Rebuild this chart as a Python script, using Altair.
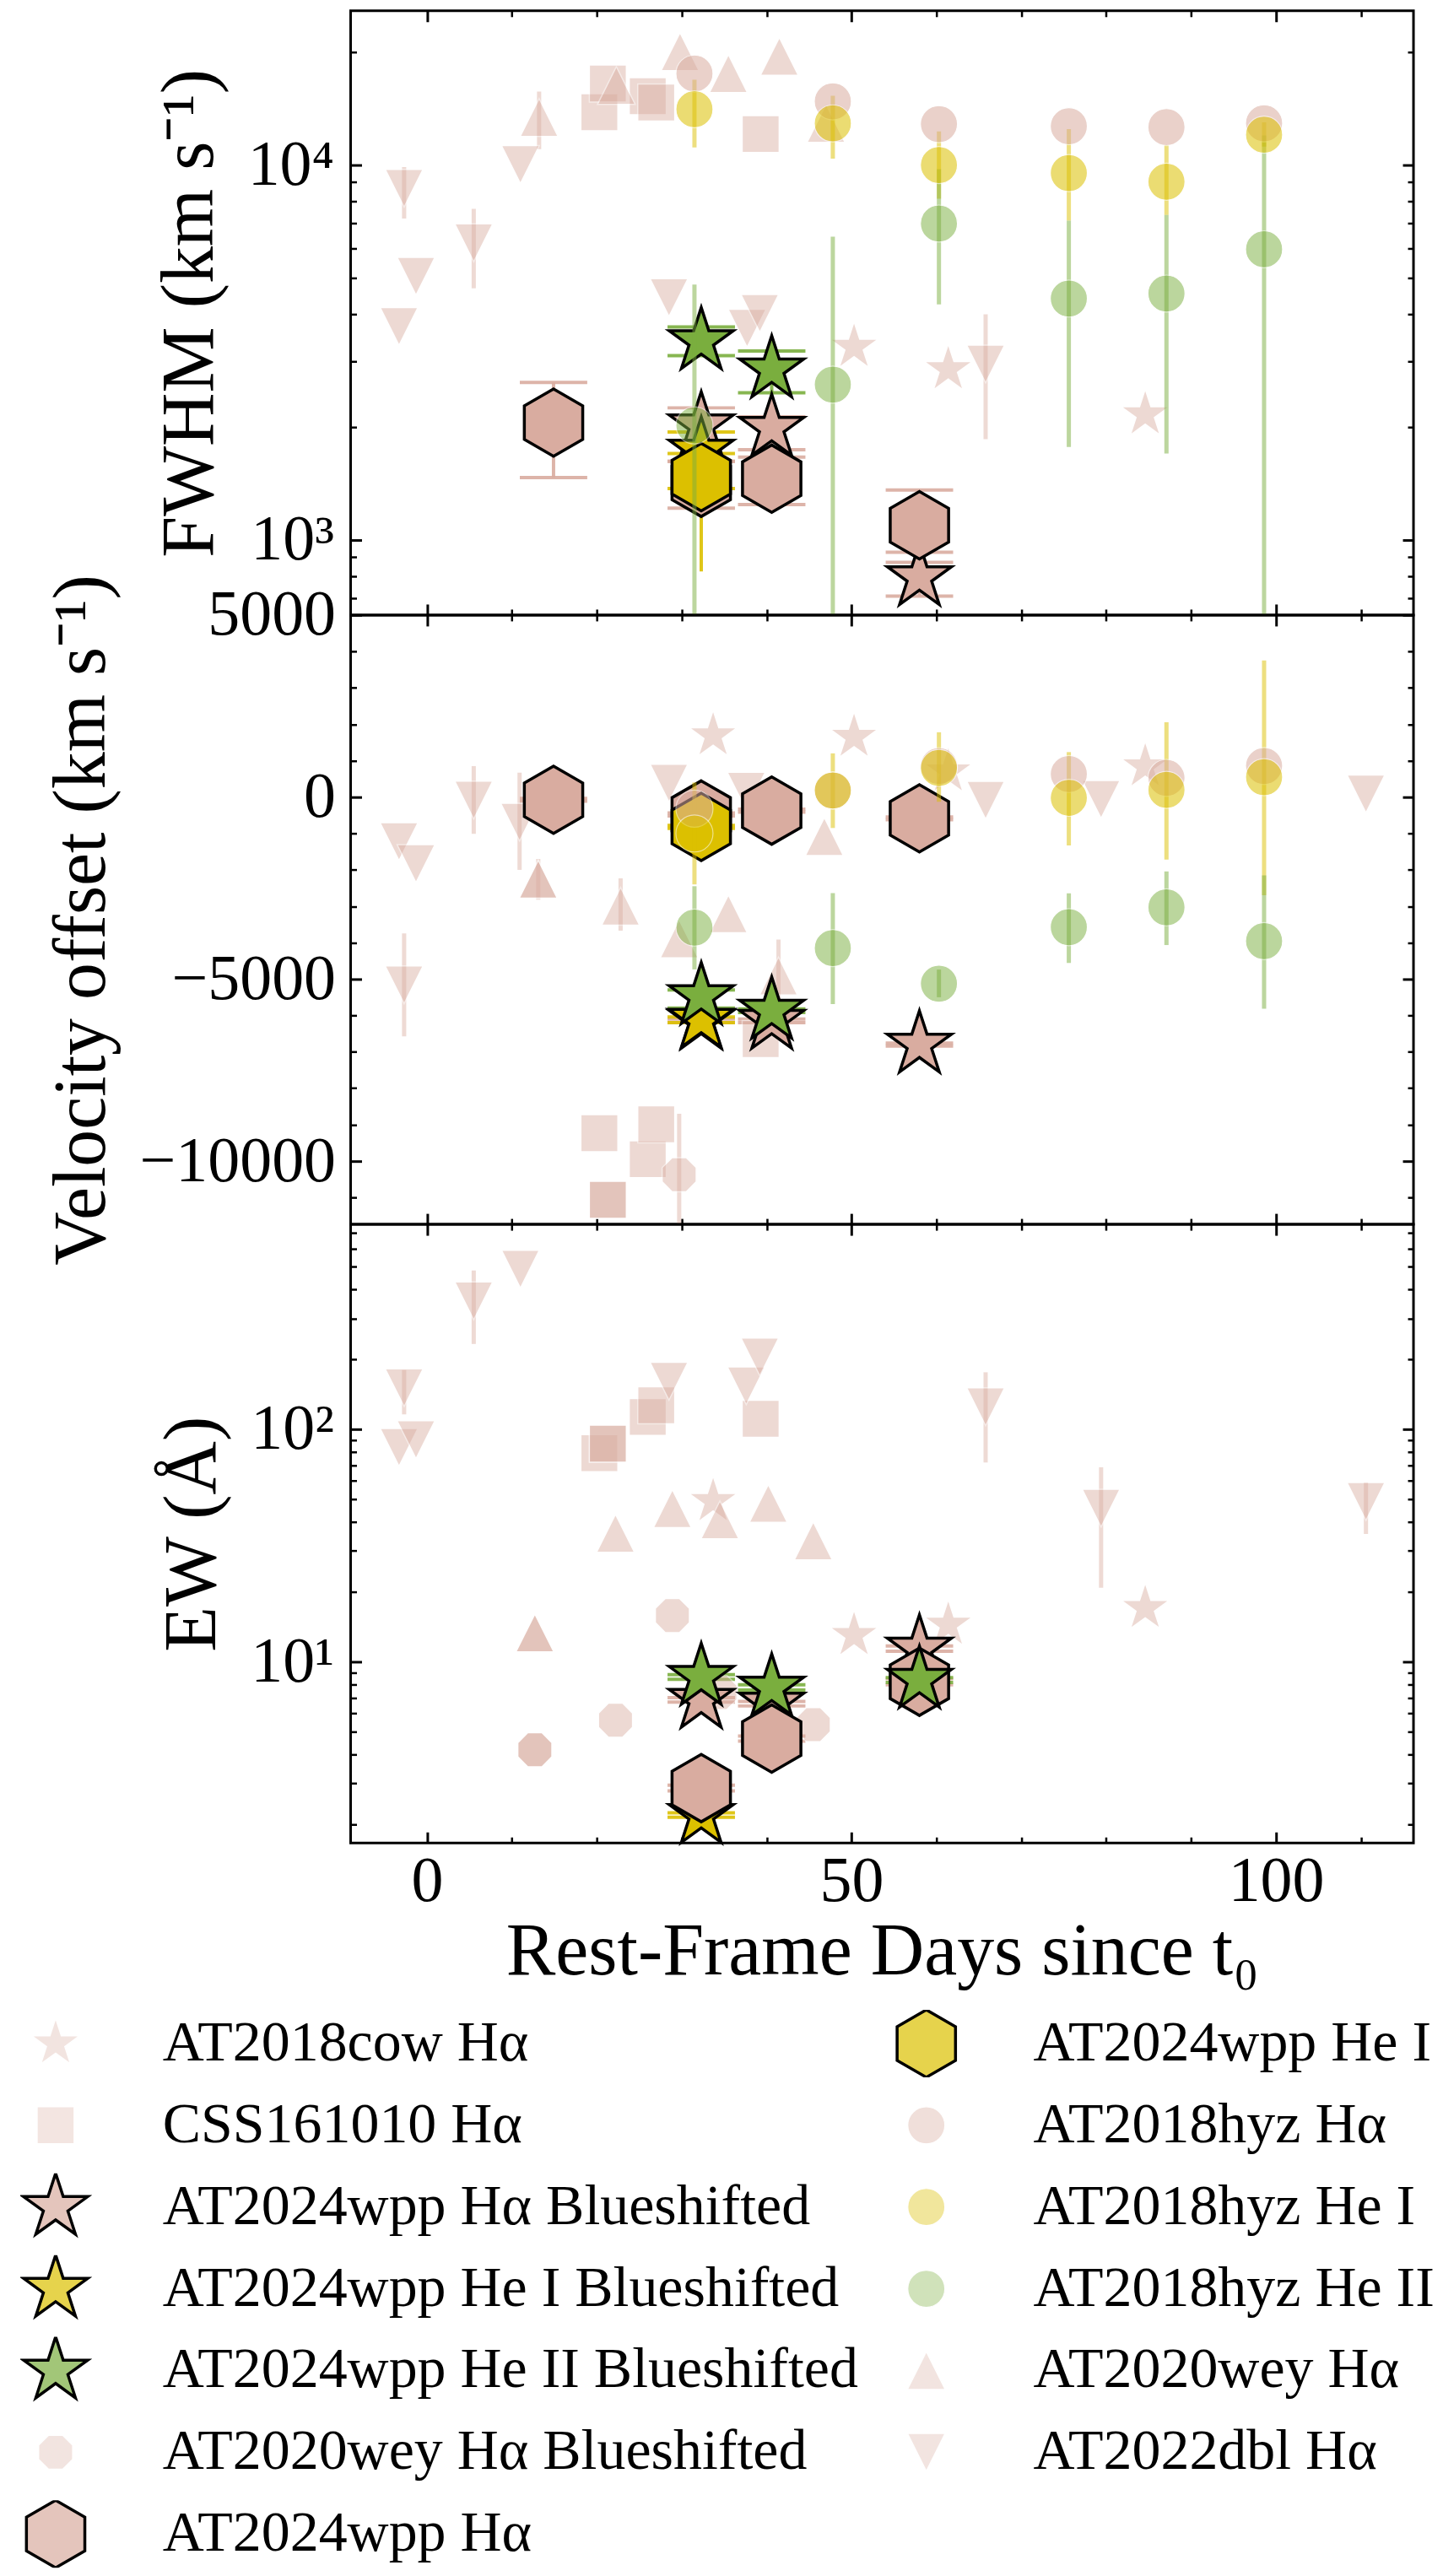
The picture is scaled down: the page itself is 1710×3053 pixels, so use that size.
import math
import altair as alt
import pandas as pd

FONT = "Liberation Serif"
PINK = "#d9aca0"
YELLOW = "#dcc000"
GREEN = "#7aae3e"

# ---------------- series names ----------------
COW = "AT2018cow Hα"
CSS = "CSS161010 Hα"
WPP_HA_B = "AT2024wpp Hα Blueshifted"
WPP_HEI_B = "AT2024wpp He I Blueshifted"
WPP_HEII_B = "AT2024wpp He II Blueshifted"
WEY_B = "AT2020wey Hα Blueshifted"
WPP_HA = "AT2024wpp Hα"
WPP_HEI = "AT2024wpp He I"
HYZ_HA = "AT2018hyz Hα"
HYZ_HEI = "AT2018hyz He I"
HYZ_HEII = "AT2018hyz He II"
WEY = "AT2020wey Hα"
DBL = "AT2022dbl Hα"

# ---------------- shared epochs ----------------
hyz_day = [31.5, 47.8, 60.3, 75.6, 87.1, 98.6]
wpp_day = [14.9, 32.3, 40.6, 58.0]
wpp_day3 = [32.3, 40.6, 58.0]
wpp_day2 = [32.3, 40.6]
wpp_day1 = [32.3]

# ---------------- FWHM panel (km/s) ----------------
fwhm_cow_day = [50.3, 61.4, 84.6]
fwhm_cow = [3270, 2850, 2160]
fwhm_css_day = [20.3, 21.3, 26.0, 27.0, 39.3]
fwhm_css = [13840, 16500, 15260, 14680, 12100]
fwhm_wey_day = [13.2, 22.3, 29.8, 35.5, 41.5, 47.0]
fwhm_wey = [13400, 16300, 20070, 17540, 19500, 12920]
fwhm_wey_lo = [11030, None, None, None, None, None]
fwhm_wey_hi = [15700, None, None, None, None, None]
fwhm_dbl_day = [-2.7, -3.3, -1.3, 5.5, 11.0, 28.5, 37.7, 39.2, 65.8]
fwhm_dbl = [8670, 3710, 5050, 6200, 10030, 4430, 3670, 4020, 2945]
fwhm_dbl_lo = [7200, None, None, 4690, None, None, None, None, 1855]
fwhm_dbl_hi = [9880, None, None, 7640, None, None, None, None, 4000]
fwhm_hyz_ha = [17540, 14790, 12860, 12700, 12620, 12920]
fwhm_hyz_hei = [14090, 12920, 10000, 9520, 9030, 12050]
fwhm_hyz_hei_lo = [11150, 10400, 8130, 7110, 7360, 11200]
fwhm_hyz_hei_hi = [16900, 15300, 12300, 12470, 11300, 13000]
fwhm_hyz_heii = [2020, 2595, 6980, 4405, 4540, 5960]
fwhm_hyz_heii_lo = [400, 400, 4250, 1770, 1700, 400]
fwhm_hyz_heii_hi = [4800, 6440, 9750, 7110, 7360, 12000]
fwhm_wpp_ha = [2055, 1420, 1456, 1094]
fwhm_wpp_ha_lo = [1466, 1215, 1242, 927]
fwhm_wpp_ha_hi = [2630, 1620, 1662, 1358]
fwhm_wpp_hei = [1470]
fwhm_wpp_hei_lo = [824]
fwhm_wpp_hei_hi = [1700]
fwhm_wpp_ha_b = [2020, 1990, 795]
fwhm_wpp_ha_b_lo = [1620, 1740, 708]
fwhm_wpp_ha_b_hi = [2250, 2130, 871]
fwhm_wpp_hei_b = [1730]
fwhm_wpp_hei_b_lo = [1370]
fwhm_wpp_hei_b_hi = [1940]
fwhm_wpp_heii_b = [3390, 2850]
fwhm_wpp_heii_b_lo = [3100, 2470]
fwhm_wpp_heii_b_hi = [3700, 3190]

# ---------------- Velocity panel (km/s) ----------------
vel_cow_day = [33.7, 50.3, 61.4, 84.6]
vel_cow = [1690, 1650, 700, 840]
vel_css_day = [20.3, 21.3, 21.3, 26.0, 27.0, 39.3]
vel_css = [-9235, -11065, -11065, -9950, -8990, -6650]
vel_wey_b_day = [29.7]
vel_wey_b = [-10375]
vel_wey_b_lo = [-12500]
vel_wey_b_hi = [-8700]
vel_wey_day = [13.1, 13.1, 22.8, 29.7, 35.5, 41.4, 46.8]
vel_wey = [-2255, -2255, -3000, -3895, -3210, -4915, -1085]
vel_wey_lo = [-2820, None, -3670, None, None, -5915, None]
vel_wey_hi = [-1700, None, -2234, None, None, -3915, None]
vel_dbl_day = [-3.3, -1.3, 5.5, 10.9, -2.7, 28.5, 37.6, 65.8, 79.4, 110.6]
vel_dbl = [-1225, -1830, -85, -690, -5160, 383, 160, -87, -65, 87]
vel_dbl_lo = [None, None, -1010, -2000, -6575, None, None, None, None, None]
vel_dbl_hi = [None, None, 851, 670, -3745, None, None, None, None, None]
vel_hyz_ha = [-320, 180, 850, 634, 525, 853]
vel_hyz_hei = [-1000, 180, 800, -20, 197, 547]
vel_hyz_hei_lo = [-2400, -850, -130, -1330, -1716, -2700]
vel_hyz_hei_hi = [400, 1200, 1780, 1235, 2055, 3750]
vel_hyz_heii = [-3585, -4150, -5126, -3574, -3028, -3957]
vel_hyz_heii_lo = [-4735, -5690, -5500, -4558, -4066, -5815]
vel_hyz_heii_hi = [-2450, -2640, -4740, -2645, -2044, -2153]
vel_wpp_ha = [-75, -480, -372, -585]
vel_wpp_ha_lo = [-115, -520, -412, -625]
vel_wpp_ha_hi = [-35, -440, -332, -545]
vel_wpp_hei = [-820]
vel_wpp_hei_lo = [-860]
vel_wpp_hei_hi = [-780]
vel_wpp_ha_b = [-6150, -6150, -6800]
vel_wpp_ha_b_lo = [-6200, -6200, -6840]
vel_wpp_ha_b_hi = [-6100, -6100, -6760]
vel_wpp_hei_b = [-6120]
vel_wpp_hei_b_lo = [-6200]
vel_wpp_hei_b_hi = [-6040]
vel_wpp_heii_b = [-5470, -5870]
vel_wpp_heii_b_lo = [-5800, -5920]
vel_wpp_heii_b_hi = [-5300, -5820]

# ---------------- EW panel (Angstrom) ----------------
ew_cow_day = [33.7, 50.3, 61.4, 84.6]
ew_cow = [49.0, 13.0, 14.4, 17.0]
ew_css_day = [20.3, 21.3, 21.3, 26.0, 27.0, 39.3]
ew_css = [78.9, 86.8, 86.8, 113, 127, 111]
ew_wey_b_day = [12.7, 12.7, 22.2, 28.9, 34.5, 45.5]
ew_wey_b = [4.18, 4.18, 5.60, 15.8, 7.37, 5.36]
ew_wey_day = [12.7, 12.7, 22.2, 28.9, 34.5, 40.2, 45.5]
ew_wey = [13.3, 13.3, 35.7, 45.6, 40.8, 48.0, 33.1]
ew_dbl_day = [-2.7, -3.3, -1.3, 5.5, 11.0, 28.5, 37.6, 39.2, 65.8, 79.4, 110.6]
ew_dbl = [151, 83.6, 90.2, 357, 489, 161, 154, 205, 125, 45.8, 48.9]
ew_dbl_lo = [116, None, None, 233, None, None, None, None, 72, 20.8, 35.5]
ew_dbl_hi = [180, None, None, 482, None, None, None, None, 176, 68.7, 59]
ew_wpp_ha = [2.86, 4.67, 8.2]
ew_wpp_ha_lo = [2.78, 4.55, 7.95]
ew_wpp_ha_hi = [2.94, 4.79, 8.45]
ew_wpp_ha_b = [6.86, 6.6, 11.4]
ew_wpp_ha_b_lo = [6.7, 6.45, 11.1]
ew_wpp_ha_b_hi = [7.0, 6.75, 11.7]
ew_wpp_hei_b = [2.19]
ew_wpp_hei_b_lo = [2.14]
ew_wpp_hei_b_hi = [2.24]
ew_wpp_heii_b = [8.6, 7.74, 8.36]
ew_wpp_heii_b_lo = [8.4, 7.55, 8.15]
ew_wpp_heii_b_hi = [8.8, 7.95, 8.55]

# ---------------- marker styles ----------------
def star_path():
    pts = []
    for k in range(10):
        r = 1.0 if k % 2 == 0 else 0.382
        a = math.radians(-90 + 36 * k)
        pts.append(f"{r * math.cos(a):.4f},{r * math.sin(a):.4f}")
    return "M" + "L".join(pts) + "Z"

STAR = star_path()
HEX = "M0,-1L0.866,-0.5L0.866,0.5L0,1L-0.866,0.5L-0.866,-0.5Z"
OCT = "M-0.414,-1L0.414,-1L1,-0.414L1,0.414L0.414,1L-0.414,1L-1,0.414L-1,-0.414Z"
SQR = "M-1,-1L1,-1L1,1L-1,1Z"
TUP = "M0,-1L1,1L-1,1Z"
TDN = "M0,1L1,-1L-1,-1Z"

# shape, fill, stroke, strokeWidth, opacity, size, error colour, error group
STYLE = {
    COW: (STAR, PINK, "white", 1.5, 0.45, 3600, PINK, "faint"),
    CSS: (SQR, PINK, "white", 1.5, 0.45, 1936, PINK, "faint"),
    WPP_HA_B: (STAR, PINK, "black", 3.5, 1.0, 6400, PINK, "wpp"),
    WPP_HEI_B: (STAR, YELLOW, "black", 3.5, 1.0, 6400, YELLOW, "wpp"),
    WPP_HEII_B: (STAR, GREEN, "black", 3.5, 1.0, 6400, GREEN, "wpp"),
    WEY_B: (OCT, PINK, "white", 1.5, 0.45, 1640, PINK, "faint"),
    WPP_HA: (HEX, PINK, "black", 3.5, 1.0, 6400, PINK, "wpp"),
    WPP_HEI: (HEX, YELLOW, "black", 3.5, 1.0, 6400, YELLOW, "wpp"),
    HYZ_HA: ("circle", PINK, "white", 1.2, 0.55, 1936, PINK, "hyz"),
    HYZ_HEI: ("circle", YELLOW, "white", 1.2, 0.55, 1936, YELLOW, "hyz"),
    HYZ_HEII: ("circle", GREEN, "white", 1.2, 0.5, 1936, GREEN, "hyz"),
    WEY: (TUP, PINK, "white", 1.5, 0.45, 2025, PINK, "faint"),
    DBL: (TDN, PINK, "white", 1.5, 0.45, 2025, PINK, "faint"),
}
# legend order (column-major, two columns)
LEG = [COW, CSS, WPP_HA_B, WPP_HEI_B, WPP_HEII_B, WEY_B, WPP_HA,
       WPP_HEI, HYZ_HA, HYZ_HEI, HYZ_HEII, WEY, DBL]
# drawing order
ORDER = [COW, CSS, WEY_B, WEY, DBL, WPP_HA_B, WPP_HEI_B, WPP_HA, WPP_HEI, WPP_HEII_B,
         HYZ_HA, HYZ_HEI, HYZ_HEII]
HYZ = [HYZ_HA, HYZ_HEI, HYZ_HEII]
# error-bar ends drawn without a cap: (panel, series, day)
NO_LOW_CAP = {("fwhm", WPP_HEI, 32.3)}


def build(panel_name, entries):
    recs = []
    for s, d, v, lo, hi in entries:
        for i in range(len(d)):
            l = lo[i] if lo else None
            h = hi[i] if hi else None
            recs.append({
                "series": s, "day": d[i], "val": v[i], "lo": l, "hi": h,
                "caplo": None if (panel_name, s, d[i]) in NO_LOW_CAP else l,
                "ecolor": STYLE[s][6], "egrp": STYLE[s][7], "ord": ORDER.index(s),
            })
    df = pd.DataFrame(recs).sort_values("ord", kind="stable").reset_index(drop=True)
    return df


fwhm_df = build("fwhm", [
    (COW, fwhm_cow_day, fwhm_cow, None, None),
    (CSS, fwhm_css_day, fwhm_css, None, None),
    (WEY, fwhm_wey_day, fwhm_wey, fwhm_wey_lo, fwhm_wey_hi),
    (DBL, fwhm_dbl_day, fwhm_dbl, fwhm_dbl_lo, fwhm_dbl_hi),
    (HYZ_HA, hyz_day, fwhm_hyz_ha, None, None),
    (HYZ_HEI, hyz_day, fwhm_hyz_hei, fwhm_hyz_hei_lo, fwhm_hyz_hei_hi),
    (HYZ_HEII, hyz_day, fwhm_hyz_heii, fwhm_hyz_heii_lo, fwhm_hyz_heii_hi),
    (WPP_HA, wpp_day, fwhm_wpp_ha, fwhm_wpp_ha_lo, fwhm_wpp_ha_hi),
    (WPP_HEI, wpp_day1, fwhm_wpp_hei, fwhm_wpp_hei_lo, fwhm_wpp_hei_hi),
    (WPP_HA_B, wpp_day3, fwhm_wpp_ha_b, fwhm_wpp_ha_b_lo, fwhm_wpp_ha_b_hi),
    (WPP_HEI_B, wpp_day1, fwhm_wpp_hei_b, fwhm_wpp_hei_b_lo, fwhm_wpp_hei_b_hi),
    (WPP_HEII_B, wpp_day2, fwhm_wpp_heii_b, fwhm_wpp_heii_b_lo, fwhm_wpp_heii_b_hi),
])
vel_df = build("vel", [
    (COW, vel_cow_day, vel_cow, None, None),
    (CSS, vel_css_day, vel_css, None, None),
    (WEY_B, vel_wey_b_day, vel_wey_b, vel_wey_b_lo, vel_wey_b_hi),
    (WEY, vel_wey_day, vel_wey, vel_wey_lo, vel_wey_hi),
    (DBL, vel_dbl_day, vel_dbl, vel_dbl_lo, vel_dbl_hi),
    (HYZ_HA, hyz_day, vel_hyz_ha, None, None),
    (HYZ_HEI, hyz_day, vel_hyz_hei, vel_hyz_hei_lo, vel_hyz_hei_hi),
    (HYZ_HEII, hyz_day, vel_hyz_heii, vel_hyz_heii_lo, vel_hyz_heii_hi),
    (WPP_HA, wpp_day, vel_wpp_ha, vel_wpp_ha_lo, vel_wpp_ha_hi),
    (WPP_HEI, wpp_day1, vel_wpp_hei, vel_wpp_hei_lo, vel_wpp_hei_hi),
    (WPP_HA_B, wpp_day3, vel_wpp_ha_b, vel_wpp_ha_b_lo, vel_wpp_ha_b_hi),
    (WPP_HEI_B, wpp_day1, vel_wpp_hei_b, vel_wpp_hei_b_lo, vel_wpp_hei_b_hi),
    (WPP_HEII_B, wpp_day2, vel_wpp_heii_b, vel_wpp_heii_b_lo, vel_wpp_heii_b_hi),
])
ew_df = build("ew", [
    (COW, ew_cow_day, ew_cow, None, None),
    (CSS, ew_css_day, ew_css, None, None),
    (WEY_B, ew_wey_b_day, ew_wey_b, None, None),
    (WEY, ew_wey_day, ew_wey, None, None),
    (DBL, ew_dbl_day, ew_dbl, ew_dbl_lo, ew_dbl_hi),
    (WPP_HA, wpp_day3, ew_wpp_ha, ew_wpp_ha_lo, ew_wpp_ha_hi),
    (WPP_HA_B, wpp_day3, ew_wpp_ha_b, ew_wpp_ha_b_lo, ew_wpp_ha_b_hi),
    (WPP_HEI_B, wpp_day1, ew_wpp_hei_b, ew_wpp_hei_b_lo, ew_wpp_hei_b_hi),
    (WPP_HEII_B, wpp_day3, ew_wpp_heii_b, ew_wpp_heii_b_lo, ew_wpp_heii_b_hi),
])

W = 1261
X_DOMAIN = [-9.0, 116.2]
X_MAJOR = [0, 50, 100]
X_MINOR = [10, 20, 30, 40, 60, 70, 80, 90, 110]

LEGEND = alt.Legend(
    orient="none", legendX=-392, legendY=932, columns=2, title=None,
    labelFont=FONT, labelFontSize=68, labelColor="black", labelLimit=2000,
    columnPadding=38, rowPadding=17, clipHeight=80, labelOffset=85, padding=0,
)


def scale_for(key):
    idx = {"shape": 0, "fill": 1, "stroke": 2, "sw": 3, "op": 4, "size": 5}[key]
    return alt.Scale(type="ordinal", domain=LEG, range=[STYLE[s][idx] for s in LEG])


def panel(df, yscale, height, y_major, y_minor, y_title, y_label_kw, x_labels, x_title, legend):
    xs = alt.Scale(domain=X_DOMAIN, nice=False, zero=False)
    ys = yscale
    main = df[~df.series.isin(HYZ)]
    hyz = df[df.series.isin(HYZ)]
    layers = []

    def rules(d, width, op):
        d = d[d.lo.notna()]
        return alt.Chart(d).mark_rule(strokeWidth=width, opacity=op, clip=True).encode(
            x=alt.X("day:Q", scale=xs, axis=None),
            y=alt.Y("lo:Q", scale=ys, axis=None),
            y2="hi:Q",
            color=alt.Color("ecolor:N", scale=None),
        )

    def caps(d, field):
        d = d[d[field].notna()]
        return alt.Chart(d).mark_tick(orient="horizontal", size=80, thickness=4,
                                      opacity=0.9, clip=True).encode(
            x=alt.X("day:Q", scale=xs, axis=None),
            y=alt.Y(f"{field}:Q", scale=ys, axis=None),
            color=alt.Color("ecolor:N", scale=None),
        )

    def points(d):
        return alt.Chart(d).mark_point(filled=True).encode(
            x=alt.X("day:Q", scale=xs, axis=None),
            y=alt.Y("val:Q", scale=ys, axis=None),
            shape=alt.Shape("series:N", scale=scale_for("shape"), legend=legend),
            fill=alt.Fill("series:N", scale=scale_for("fill"), legend=legend),
            stroke=alt.Stroke("series:N", scale=scale_for("stroke"), legend=legend),
            strokeWidth=alt.StrokeWidth("series:N", scale=scale_for("sw"), legend=legend),
            opacity=alt.Opacity("series:N", scale=scale_for("op"), legend=legend),
            size=alt.Size("series:N", scale=scale_for("size"), legend=legend),
        )

    wpp = main[main.egrp == "wpp"]
    faint = main[main.egrp == "faint"]
    layers.append(rules(faint, 5, 0.45))
    if len(wpp):
        layers.append(rules(wpp, 4, 0.9))
        layers.append(caps(wpp, "caplo"))
        layers.append(caps(wpp, "hi"))
    layers.append(points(main))
    if len(hyz):
        layers.append(rules(hyz, 5, 0.5))
        layers.append(points(hyz))

    common = dict(domain=False, grid=False, tickColor="black", labelFont=FONT,
                  labelFontSize=76, labelColor="black", titleFont=FONT,
                  titleFontSize=88, titleFontWeight="normal", titleColor="black",
                  labelLimit=500, maxExtent=600, minExtent=0)
    one = main.iloc[:1]

    def ax(xax, yax):
        return alt.Chart(one).mark_point(opacity=0).encode(
            x=alt.X("day:Q", scale=xs, axis=xax),
            y=alt.Y("val:Q", scale=ys, axis=yax),
        )

    if x_labels:
        layers.append(ax(alt.Axis(orient="bottom", values=X_MAJOR, tickSize=13, offset=-13,
                                  tickWidth=3, labels=True, labelPadding=8, format="d",
                                  title=x_title, titlePadding=2, **common), None))
    else:
        layers.append(ax(alt.Axis(orient="bottom", values=X_MAJOR, tickSize=13, offset=-13,
                                  tickWidth=3, labels=False, title=None, **common), None))
    layers.append(ax(alt.Axis(orient="bottom", values=X_MINOR, tickSize=7, offset=-7,
                              tickWidth=2.5, labels=False, title=None, **common), None))
    layers.append(ax(alt.Axis(orient="top", values=X_MAJOR, tickSize=13, offset=-13,
                              tickWidth=3, labels=False, title=None, **common), None))
    layers.append(ax(alt.Axis(orient="top", values=X_MINOR, tickSize=7, offset=-7,
                              tickWidth=2.5, labels=False, title=None, **common), None))
    layers.append(ax(None, alt.Axis(orient="left", values=y_major, tickSize=13, offset=-13,
                                    tickWidth=3, labels=True, title=y_title, titlePadding=24,
                                    **y_label_kw, **common)))
    layers.append(ax(None, alt.Axis(orient="left", values=y_minor, tickSize=7, offset=-7,
                                    tickWidth=2.5, labels=False, title=None, **common)))
    layers.append(ax(None, alt.Axis(orient="right", values=y_major, tickSize=13, offset=-13,
                                    tickWidth=3, labels=False, title=None, **common)))
    layers.append(ax(None, alt.Axis(orient="right", values=y_minor, tickSize=7, offset=-7,
                                    tickWidth=2.5, labels=False, title=None, **common)))

    return alt.layer(*layers).resolve_axis(x="independent", y="independent").properties(
        width=W, height=height)


top = panel(
    fwhm_df,
    alt.Scale(type="log", domain=[630, 25800], nice=False, zero=False),
    717,
    [1000, 10000],
    [700, 800, 900, 2000, 3000, 4000, 5000, 6000, 7000, 8000, 9000, 20000],
    "FWHM (km s⁻¹)",
    dict(labelExpr="datum.value >= 5000 ? '10⁴' : '10³'", labelPadding=20),
    False, None, None,
)
mid = panel(
    vel_df,
    alt.Scale(type="linear", domain=[-11740, 5000], nice=False, zero=False),
    723,
    [-10000, -5000, 0, 5000],
    [-11000, -9000, -8000, -7000, -6000, -4000, -3000, -2000, -1000,
     1000, 2000, 3000, 4000],
    "Velocity offset (km s⁻¹)",
    dict(format="d", labelPadding=18),
    False, None, None,
)
bot = panel(
    ew_df,
    alt.Scale(type="log", domain=[1.66, 762], nice=False, zero=False),
    734,
    [10, 100],
    [2, 3, 4, 5, 6, 7, 8, 9, 20, 30, 40, 50, 60, 70, 80, 90, 200, 300, 400, 500, 600, 700],
    "EW (Å)",
    dict(labelExpr="datum.value >= 50 ? '10²' : '10¹'", labelPadding=20),
    True, "Rest-Frame Days since t₀", LEGEND,
)

chart = alt.vconcat(top, mid, bot, spacing=0, bounds="flush").resolve_scale(
    shape="independent", fill="independent", stroke="independent",
    strokeWidth="independent", opacity="independent", size="independent",
).properties(
    padding={"left": 14, "top": 0, "right": 0, "bottom": 0},
).configure(font=FONT).configure_view(stroke="black", strokeWidth=3)

chart.save("out.html", embed_options={"renderer": "svg", "actions": False})
